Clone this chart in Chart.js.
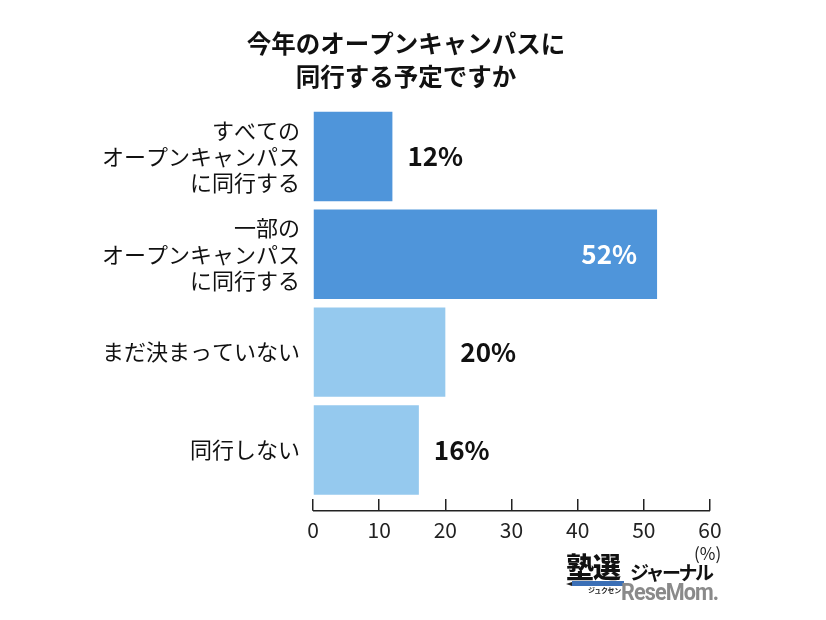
<!DOCTYPE html>
<html>
<head>
<meta charset="utf-8">
<script src="https://cdn.jsdelivr.net/npm/chart.js@4"></script>
<style>
  html, body { margin: 0; padding: 0; background: #fff; }
  #wrap { position: relative; width: 826px; height: 620px; }
  canvas { display: block; }
  .ov { position: absolute; font-family: "Noto Sans CJK JP", "Noto Sans", sans-serif; white-space: nowrap; line-height: 1; }
</style>
</head>
<body>
<div id="wrap">
  <canvas id="c" width="826" height="620"></canvas>
  <div class="ov" style="left:694px; top:544px; font-size:17px; color:#222;">(%)</div>
  <div class="ov" style="left:566px; top:552px; font-size:28px; font-weight:900; color:#111; letter-spacing:-1px;">塾選</div>
  <div class="ov" style="left:572px; top:581px; width:52px; height:5px; background:#3b6fb6;"></div>
  <div class="ov" style="left:566px; top:582px; width:0; height:0; border-top:2.5px solid transparent; border-bottom:2.5px solid transparent; border-right:6px solid #222;"></div>
  <div class="ov" style="left:630px; top:562px; font-size:19px; font-weight:700; color:#111; letter-spacing:-2.5px;">ジャーナル</div>
  <div class="ov" style="left:588px; top:587px; font-size:7px; font-weight:700; color:#222; letter-spacing:-0.3px;">ジュクセン</div>
  <div class="ov" style="left:621px; top:580px; font-size:24px; font-weight:700; color:#8a8a8a; font-family:'Roboto','Liberation Sans',sans-serif; letter-spacing:-1px; transform:scaleX(0.9); transform-origin:left;">ReseMom.</div>
</div>
<script>
const categories = [
  ["すべての", "オープンキャンパス", "に同行する"],
  ["一部の", "オープンキャンパス", "に同行する"],
  ["まだ決まっていない"],
  ["同行しない"]
];
const values = [12, 52, 20, 16];
const barColors = ["#4F95DA", "#4F95DA", "#95C9EE", "#95C9EE"];
const labelColors = ["#111", "#fff", "#111", "#111"];
const labelInside = [false, true, false, false];
const xTicks = [0, 10, 20, 30, 40, 50, 60];
const titleLines = ["今年のオープンキャンパスに", "同行する予定ですか"];

const JP = '"Noto Sans CJK JP", "Noto Sans", sans-serif';

const valueLabels = {
  id: 'valueLabels',
  afterDatasetsDraw(chart) {
    const ctx = chart.ctx;
    const meta = chart.getDatasetMeta(0);
    ctx.save();
    ctx.font = 'bold 26px ' + JP;
    ctx.textBaseline = 'middle';
    meta.data.forEach((bar, i) => {
      const txt = values[i] + '%';
      ctx.fillStyle = labelColors[i];
      if (labelInside[i]) {
        ctx.textAlign = 'right';
        ctx.fillText(txt, bar.x - 20, bar.y);
      } else {
        ctx.textAlign = 'left';
        ctx.fillText(txt, bar.x + 15, bar.y);
      }
    });
    ctx.restore();
  }
};

const axisLine = {
  id: 'axisLine',
  afterDraw(chart) {
    const x = chart.scales.x;
    const ctx = chart.ctx;
    const yy = x.top + 12;
    ctx.save();
    ctx.strokeStyle = '#222';
    ctx.lineWidth = 1.5;
    ctx.beginPath();
    ctx.moveTo(x.getPixelForValue(xTicks[0]), yy);
    ctx.lineTo(x.getPixelForValue(xTicks[xTicks.length - 1]), yy);
    ctx.stroke();
    ctx.restore();
  }
};

new Chart(document.getElementById('c'), {
  type: 'bar',
  data: {
    labels: categories,
    datasets: [{
      data: values,
      backgroundColor: barColors,
      borderWidth: 0,
      barPercentage: 0.915,
      categoryPercentage: 1.0
    }]
  },
  options: {
    indexAxis: 'y',
    responsive: false,
    animation: false,
    devicePixelRatio: 1,
    layout: { padding: { top: 28, bottom: 70, left: 102, right: 116 } },
    plugins: {
      legend: { display: false },
      tooltip: { enabled: false },
      title: {
        display: true,
        text: titleLines,
        color: '#111',
        font: { family: JP, size: 24.5, weight: 'bold', lineHeight: 1.32 },
        padding: { top: 0, bottom: 15 }
      }
    },
    scales: {
      x: {
        type: 'linear',
        min: 0,
        max: 60,
        afterBuildTicks(scale) { scale.ticks = xTicks.map(v => ({ value: v })); },
        ticks: {
          color: '#222',
          font: { family: JP, size: 21 },
          padding: 7
        },
        grid: { display: true, drawOnChartArea: false, drawTicks: true, tickLength: 12, color: '#222', lineWidth: 1.5 },
        border: { display: false }
      },
      y: {
        afterFit(scale) { scale.width = 211; },
        ticks: {
          color: '#111',
          font: { family: JP, size: 22, lineHeight: 1.2 },
          padding: 13,
          crossAlign: 'near'
        },
        grid: { display: false, drawTicks: false },
        border: { display: false }
      }
    }
  },
  plugins: [valueLabels, axisLine]
});
</script>
</body>
</html>
